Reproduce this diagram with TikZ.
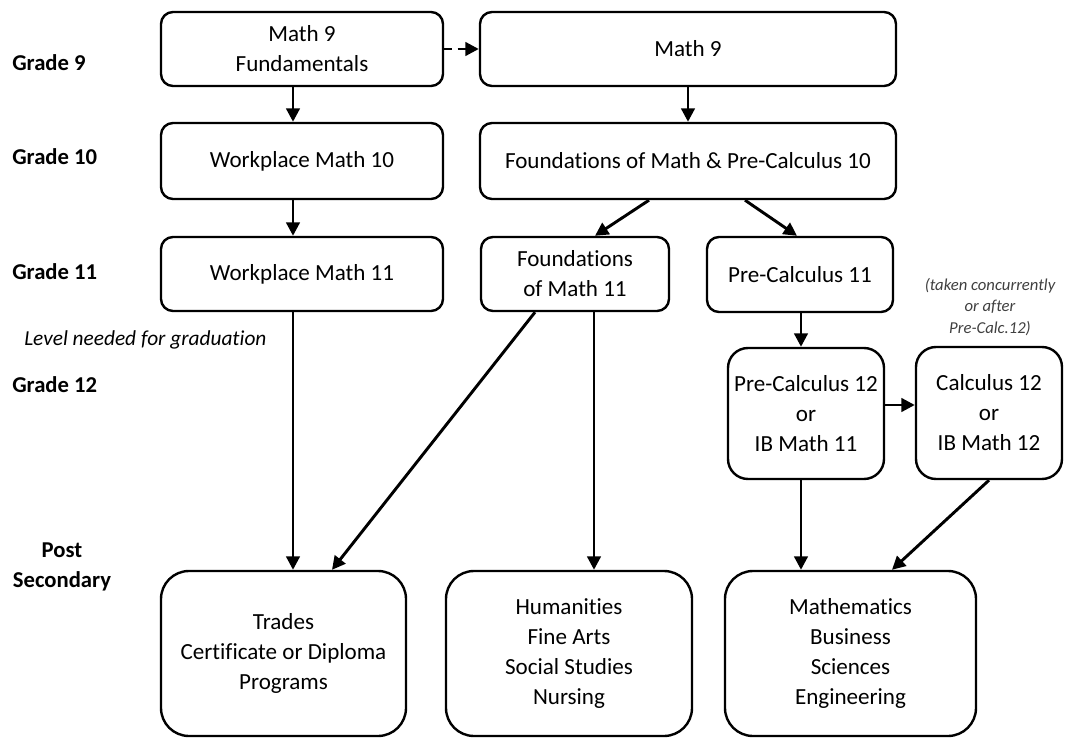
\documentclass[tikz,border=0pt]{standalone}
\usepackage{fontspec}
\setmainfont{Carlito}[Ligatures=NoCommon]
\usetikzlibrary{arrows.meta}
\begin{document}
\begin{tikzpicture}[x=0.75pt,y=-0.75pt,
  box/.style={draw, line width=1.8pt, rounded corners=9pt, inner sep=0pt, align=center, font=\fontsize{17.3}{22.5}\selectfont},
  midbox/.style={box, rounded corners=15pt},
  bigbox/.style={box, rounded corners=21pt},
  arr/.style={line width=2.2pt, -{Triangle[length=10pt,width=10pt]}},
  dasharr/.style={arr, dash pattern=on 6pt off 4pt},
  grade/.style={anchor=west, inner sep=0pt, font=\fontsize{17}{20}\selectfont\bfseries},
  note/.style={inner sep=0pt, align=center, text=black!75, font=\fontsize{12.5}{16}\selectfont\itshape},
]
\useasboundingbox (0,0) rectangle (1065,738);

% grade labels
\node[grade] (g9) at (12,63) {Grade 9};
\node[grade] (g10) at (12,157) {Grade 10};
\node[grade] (g11) at (12,272) {Grade 11};
\node[anchor=west, inner sep=0pt, font=\fontsize{16}{20}\selectfont\itshape] (lvl) at (24,340) {Level needed for graduation};
\node[grade] (g12) at (12,385) {Grade 12};
\node[inner sep=0pt, align=center, font=\fontsize{17}{23}\selectfont\bfseries] (ps) at (62,567) {Post\\Secondary};

% boxes
\node[box, minimum width=211.5pt, minimum height=55.5pt] (m9f) at (302,49) {Math 9\\Fundamentals};
\node[box, minimum width=312pt, minimum height=55.5pt] (m9) at (688,49) {Math 9};
\node[box, minimum width=211.5pt, minimum height=57pt] (wm10) at (302,161) {Workplace Math 10};
\node[box, minimum width=312pt, minimum height=57pt] (fm10) at (688,161) {Foundations of Math \& Pre-Calculus 10};
\node[box, minimum width=211.5pt, minimum height=55.5pt] (wm11) at (302,274) {Workplace Math 11};
\node[box, minimum width=141pt, minimum height=55.5pt] (fm11) at (575,274) {Foundations\\of Math 11};
\node[box, minimum width=139.5pt, minimum height=56.25pt] (pc11) at (800,274.5) {Pre-Calculus 11};
\node[midbox, minimum width=117pt, minimum height=98.25pt] (pc12) at (806,413.5) {Pre-Calculus 12\\or\\IB Math 11};
\node[midbox, minimum width=109.5pt, minimum height=99pt] (c12) at (989,413) {Calculus 12\\or\\IB Math 12};
\node[bigbox, minimum width=183.75pt, minimum height=123.75pt] (trades) at (283.5,653.5) {Trades\\Certificate or Diploma\\Programs};
\node[bigbox, minimum width=184.5pt, minimum height=123.75pt] (hum) at (569,653.5) {Humanities\\Fine Arts\\Social Studies\\Nursing};
\node[bigbox, minimum width=188.25pt, minimum height=123.75pt] (mat) at (850.5,653.5) {Mathematics\\Business\\Sciences\\Engineering};

\node[note] (nt) at (990,307) {(taken concurrently\\or after\\Pre-Calc.12)};

% x references
\coordinate (xa) at (293,0);
\coordinate (xb) at (688,0);
\coordinate (xc1) at (649,0);
\coordinate (xc2) at (595,0);
\coordinate (xd1) at (745,0);
\coordinate (xd2) at (797,0);
\coordinate (xe1) at (535,0);
\coordinate (xe2) at (332,0);
\coordinate (xf) at (594,0);
\coordinate (xg) at (801,0);
\coordinate (xh1) at (989,0);
\coordinate (xh2) at (892,0);
\coordinate (yp) at (0,405);

% connectors
\draw[dasharr] (m9f.east) -- (m9.west);
\draw[arr] (m9f.south -| xa) -- (wm10.north -| xa);
\draw[arr] (m9.south -| xb) -- (fm10.north -| xb);
\draw[arr] (wm10.south -| xa) -- (wm11.north -| xa);
\draw[arr] (fm10.south -| xc1) -- (fm11.north -| xc2);
\draw[arr] (fm10.south -| xd1) -- (pc11.north -| xd2);
\draw[arr] (wm11.south -| xa) -- (trades.north -| xa);
\draw[arr] (fm11.south -| xe1) -- (trades.north -| xe2);
\draw[arr] (fm11.south -| xf) -- (hum.north -| xf);
\draw[arr] (pc11.south -| xg) -- (pc12.north -| xg);
\draw[arr] (pc12.east |- yp) -- (c12.west |- yp);
\draw[arr] (pc12.south -| xg) -- (mat.north -| xg);
\draw[arr] (c12.south -| xh1) -- (mat.north -| xh2);
\end{tikzpicture}
\end{document}
